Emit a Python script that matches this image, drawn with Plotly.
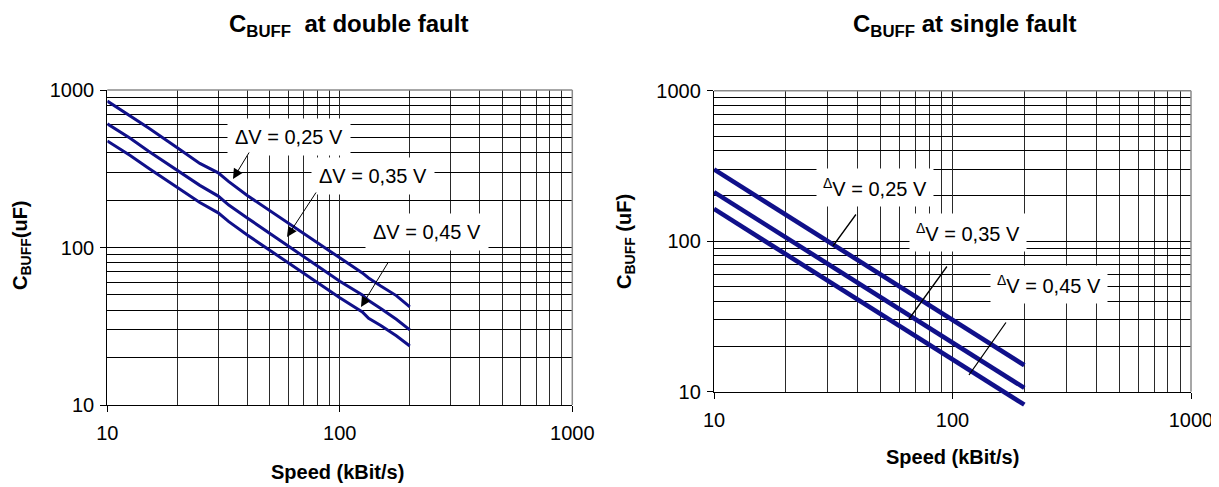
import plotly.graph_objects as go

# ---------------- data ----------------
speed_double = [10, 12.5, 15, 20, 25, 30, 33.3, 40, 50, 62.5, 75, 83.3, 100, 125, 133, 150, 175, 200]
c_double_025 = [850, 690, 575, 430, 342, 298, 262, 214, 171, 137, 115, 103, 86, 69, 64, 57, 49.5, 42]
c_double_035 = [610, 495, 410, 310, 248, 212, 186, 154, 123, 98.5, 82, 74, 61, 50, 46, 41, 35, 30]
c_double_045 = [475, 385, 320, 242, 193, 166, 146, 120, 96, 77, 64, 57.5, 48, 39, 35.5, 32, 27.5, 23.7]

speed_single = [10, 20, 50, 100, 200]
c_single_025 = [300, 150, 60, 30, 15]
c_single_035 = [212, 106, 42.4, 21.2, 10.6]
c_single_045 = [164, 82, 32.8, 16.4, 8.2]

major_ticks = [10, 100, 1000]
major_labels = ["10", "100", "1000"]
minor_ticks = [m * 10 ** e for e in (1, 2) for m in range(2, 10)]

labels = ["\u0394V = 0,25 V", "\u0394V = 0,35 V", "\u0394V = 0,45 V"]
labels_sup = ["<sup>\u0394</sup>V = 0,25 V", "<sup>\u0394</sup>V = 0,35 V", "<sup>\u0394</sup>V = 0,45 V"]

# ---------------- layout helpers ----------------
# the page body adds an 8 px margin, so the figure is laid out in page pixels minus that offset
OFF = 8
W, H = 1219 - OFF, 487 - OFF
FONT = "Arial, Liberation Sans, Helvetica, sans-serif"
LINE = "#10108a"


def px(p):
    return (p - OFF) / W


def py(p):
    return 1 - (p - OFF) / H


# plot areas in page pixels
L_X0, L_X1, L_Y0, L_Y1 = 107.3, 572.3, 90.0, 405.0
R_X0, R_X1, R_Y0, R_Y1 = 714.0, 1191.0, 90.7, 391.7
R_EXT = 412.0  # data layer of right chart extends slightly below the axis
r_dec = (R_Y1 - R_Y0) / 2.0
r_ext_low = 1 - (R_EXT - R_Y1) / r_dec

fig = go.Figure()

for ys in (c_double_025, c_double_035, c_double_045):
    fig.add_trace(go.Scatter(x=speed_double, y=ys, mode="lines",
                             line=dict(color=LINE, width=3),
                             xaxis="x", yaxis="y", showlegend=False, hoverinfo="skip"))

# reference trace so that the right-hand axes are built (draws nothing)
fig.add_trace(go.Scatter(x=speed_single, y=c_single_025, mode="none",
                         xaxis="x2", yaxis="y2", showlegend=False, hoverinfo="skip"))

for ys in (c_single_025, c_single_035, c_single_045):
    fig.add_trace(go.Scatter(x=speed_single, y=ys, mode="lines",
                             line=dict(color=LINE, width=4.6),
                             xaxis="x3", yaxis="y3", showlegend=False, hoverinfo="skip"))

xgrid = "#2a2a2a"


def log_axis(domain, anchor, gcol, standoff):
    return dict(
        type="log", domain=domain, range=[1, 3], anchor=anchor, automargin=False,
        tickmode="array", tickvals=major_ticks, ticktext=major_labels,
        ticks="outside", ticklen=6, tickwidth=1, tickcolor="black",
        ticklabelstandoff=standoff,
        showline=True, linecolor="black", linewidth=1.3, mirror=False,
        showgrid=True, gridcolor=gcol, gridwidth=1,
        minor=dict(tickmode="array", tickvals=minor_ticks, showgrid=True,
                   gridcolor=gcol, gridwidth=1, ticks=""),
        tickfont=dict(family=FONT, size=20, color="black"),
        zeroline=False, fixedrange=True,
    )


fig.update_layout(
    template="none",
    autosize=False,
    width=W, height=H,
    margin=dict(l=0, r=0, t=0, b=0, pad=0, autoexpand=False),
    paper_bgcolor="white", plot_bgcolor="rgba(0,0,0,0)",
    xaxis=log_axis([px(L_X0), px(L_X1)], "y", xgrid, 4),
    yaxis=log_axis([py(L_Y1), py(L_Y0)], "x", "black", 2),
    xaxis2=log_axis([px(R_X0), px(R_X1)], "y2", xgrid, 4),
    yaxis2=log_axis([py(R_Y1), py(R_Y0)], "x2", "black", 2),
    xaxis3=dict(type="log", domain=[px(R_X0), px(R_X1)], range=[1, 3], automargin=False,
                anchor="y3", visible=False, fixedrange=True),
    yaxis3=dict(type="log", domain=[py(R_EXT), py(R_Y0)], range=[r_ext_low, 3], automargin=False,
                anchor="x3", visible=False, fixedrange=True),
    showlegend=False,
)

# grey frame on top and right of each plot
for xr, yr in (("x", "y"), ("x2", "y2")):
    fig.add_shape(type="line", xref=f"{xr} domain", yref=f"{yr} domain",
                  x0=0, x1=1, y0=1, y1=1, line=dict(color="#8a8a8a", width=1.5))
    fig.add_shape(type="line", xref=f"{xr} domain", yref=f"{yr} domain",
                  x0=1, x1=1, y0=0, y1=1, line=dict(color="#8a8a8a", width=1.5))

ann = []
# titles (boxes kept inside the figure)
ann.append(dict(text="<b>C<sub>BUFF</sub>  at double fault</b>", x=px(348), y=1.0,
                xref="paper", yref="paper", showarrow=False, xanchor="center", yanchor="top",
                font=dict(family=FONT, size=24, color="black")))
ann.append(dict(text="<b>C<sub>BUFF</sub> at single fault</b>", x=px(964), y=1.0,
                xref="paper", yref="paper", showarrow=False, xanchor="center", yanchor="top",
                font=dict(family=FONT, size=24, color="black")))
# x titles
ann.append(dict(text="<b>Speed (kBit/s)</b>", x=px(337.5), y=py(472),
                xref="paper", yref="paper", showarrow=False, xanchor="center", yanchor="middle",
                font=dict(family=FONT, size=20, color="black")))
ann.append(dict(text="<b>Speed (kBit/s)</b>", x=px(952), y=py(457),
                xref="paper", yref="paper", showarrow=False, xanchor="center", yanchor="middle",
                font=dict(family=FONT, size=20, color="black")))
# y titles
ann.append(dict(text="<b>C<sub>BUFF</sub>(uF)</b>", x=px(21), y=py(245), textangle=-90,
                xref="paper", yref="paper", showarrow=False, xanchor="center", yanchor="middle",
                font=dict(family=FONT, size=20, color="black")))
ann.append(dict(text="<b>C<sub>BUFF</sub> (uF)</b>", x=px(625), y=py(242), textangle=-90,
                xref="paper", yref="paper", showarrow=False, xanchor="center", yanchor="middle",
                font=dict(family=FONT, size=20, color="black")))

# left chart labels (white boxes) and arrows
left_boxes = [(289, 137), (373, 176), (427, 232)]
for t, (cx, cy) in zip(labels, left_boxes):
    ann.append(dict(text=t, x=px(cx), y=py(cy), xref="paper", yref="paper", showarrow=False,
                    xanchor="center", yanchor="middle", bgcolor="white", borderpad=7,
                    font=dict(family=FONT, size=20, color="black")))
left_arrows = [((250, 151), (233, 179)), ((317, 191), (287, 237)), ((389, 261), (361, 307))]
for (tx, ty), (hx, hy) in left_arrows:
    ann.append(dict(text="", x=px(hx), y=py(hy), xref="paper", yref="paper",
                    ax=tx - hx, ay=ty - hy, axref="pixel", ayref="pixel", showarrow=True,
                    arrowhead=2, arrowsize=2, arrowwidth=1, arrowcolor="black"))

# right chart labels and leader lines
right_boxes = [(875, 187), (968, 232), (1049, 284)]
for t, (cx, cy) in zip(labels_sup, right_boxes):
    ann.append(dict(text=t, x=px(cx), y=py(cy), xref="paper", yref="paper", showarrow=False,
                    xanchor="center", yanchor="middle", bgcolor="white", borderpad=6,
                    font=dict(family=FONT, size=20, color="black")))
right_leaders = [((857, 213), (833, 246)), ((948, 265), (909, 319)), ((1007, 321), (969, 375))]
for (tx, ty), (hx, hy) in right_leaders:
    ann.append(dict(text="", x=px(hx), y=py(hy), xref="paper", yref="paper",
                    ax=tx - hx, ay=ty - hy, axref="pixel", ayref="pixel", showarrow=True,
                    arrowhead=0, arrowwidth=1.3, arrowcolor="black", standoff=0))

fig.update_layout(annotations=ann)
fig.write_html("out.html")
